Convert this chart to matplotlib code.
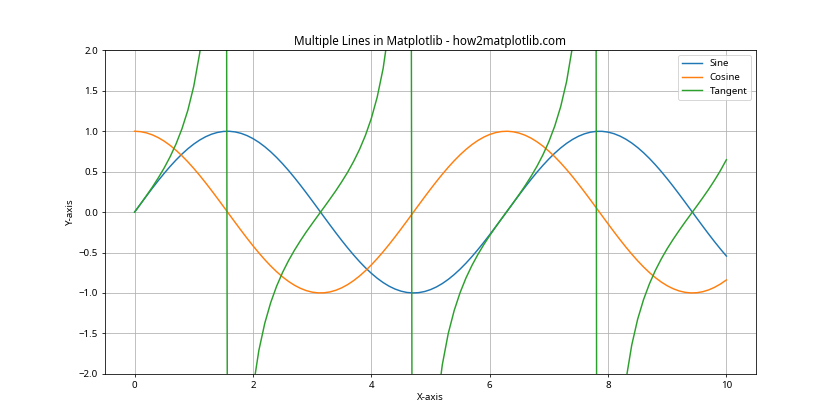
import matplotlib
matplotlib.use("Agg")
import matplotlib.pyplot as plt

plt.rcParams['font.family'] = ['Noto Sans', 'DejaVu Sans']

# x values, step 0.1 from 0 to 10
x = [i / 10 for i in range(101)]

sine = [
    0.0000, 0.0998, 0.1987, 0.2955, 0.3894, 0.4794, 0.5646, 0.6442, 0.7174, 0.7833,
    0.8415, 0.8912, 0.9320, 0.9636, 0.9854, 0.9975, 0.9996, 0.9917, 0.9738, 0.9463,
    0.9093, 0.8632, 0.8085, 0.7457, 0.6755, 0.5985, 0.5155, 0.4274, 0.3350, 0.2392,
    0.1411, 0.0416, -0.0584, -0.1577, -0.2555, -0.3508, -0.4425, -0.5298, -0.6119, -0.6878,
    -0.7568, -0.8183, -0.8716, -0.9162, -0.9516, -0.9775, -0.9937, -0.9999, -0.9962, -0.9825,
    -0.9589, -0.9258, -0.8835, -0.8323, -0.7728, -0.7055, -0.6313, -0.5507, -0.4646, -0.3739,
    -0.2794, -0.1822, -0.0831, 0.0168, 0.1165, 0.2151, 0.3115, 0.4048, 0.4941, 0.5784,
    0.6570, 0.7290, 0.7937, 0.8504, 0.8987, 0.9380, 0.9679, 0.9882, 0.9985, 0.9989,
    0.9894, 0.9699, 0.9407, 0.9022, 0.8546, 0.7985, 0.7344, 0.6630, 0.5849, 0.5010,
    0.4121, 0.3191, 0.2229, 0.1245, 0.0248, -0.0752, -0.1743, -0.2718, -0.3665, -0.4575,
    -0.5440,
]

cosine = [
    1.0000, 0.9950, 0.9801, 0.9553, 0.9211, 0.8776, 0.8253, 0.7648, 0.6967, 0.6216,
    0.5403, 0.4536, 0.3624, 0.2675, 0.1700, 0.0707, -0.0292, -0.1288, -0.2272, -0.3233,
    -0.4161, -0.5048, -0.5885, -0.6663, -0.7374, -0.8011, -0.8569, -0.9041, -0.9422, -0.9710,
    -0.9900, -0.9991, -0.9983, -0.9875, -0.9668, -0.9365, -0.8968, -0.8481, -0.7910, -0.7259,
    -0.6536, -0.5748, -0.4903, -0.4008, -0.3073, -0.2108, -0.1122, -0.0124, 0.0875, 0.1865,
    0.2837, 0.3780, 0.4685, 0.5544, 0.6347, 0.7087, 0.7756, 0.8347, 0.8855, 0.9275,
    0.9602, 0.9833, 0.9965, 0.9999, 0.9932, 0.9766, 0.9502, 0.9144, 0.8694, 0.8157,
    0.7539, 0.6845, 0.6084, 0.5261, 0.4385, 0.3466, 0.2513, 0.1534, 0.0540, -0.0460,
    -0.1455, -0.2435, -0.3392, -0.4314, -0.5193, -0.6020, -0.6787, -0.7486, -0.8111, -0.8654,
    -0.9111, -0.9477, -0.9748, -0.9922, -0.9997, -0.9972, -0.9847, -0.9624, -0.9304, -0.8892,
    -0.8391,
]

# tangent is sampled on its own x list: the two points either side of each
# asymptote sit where the reference's near-vertical jumps are
tangent_x = [
    0.0, 0.1, 0.2, 0.3, 0.4, 0.5, 0.6, 0.7, 0.8, 0.9,
    1.0, 1.1, 1.2, 1.3, 1.4, 1.5152, 1.6162, 1.7, 1.8, 1.9,
    2.0, 2.1, 2.2, 2.3, 2.4, 2.5, 2.6, 2.7, 2.8, 2.9,
    3.0, 3.1, 3.2, 3.3, 3.4, 3.5, 3.6, 3.7, 3.8, 3.9,
    4.0, 4.1, 4.2, 4.3, 4.4, 4.5, 4.6, 4.6465, 4.7475, 4.9,
    5.0, 5.1, 5.2, 5.3, 5.4, 5.5, 5.6, 5.7, 5.8, 5.9,
    6.0, 6.1, 6.2, 6.3, 6.4, 6.5, 6.6, 6.7, 6.8, 6.9,
    7.0, 7.1, 7.2, 7.3, 7.4, 7.5, 7.6, 7.7, 7.7778, 7.8788,
    8.0, 8.1, 8.2, 8.3, 8.4, 8.5, 8.6, 8.7, 8.8, 8.9,
    9.0, 9.1, 9.2, 9.3, 9.4, 9.5, 9.6, 9.7, 9.8, 9.9,
    10.0,
]

tangent = [
    0.000, 0.100, 0.203, 0.309, 0.423, 0.546, 0.684, 0.842, 1.030, 1.260,
    1.557, 1.965, 2.572, 3.602, 5.798, 17.95, -22.03, -7.70, -4.29, -2.93,
    -2.185, -1.710, -1.374, -1.119, -0.916, -0.747, -0.602, -0.473, -0.356, -0.246,
    -0.143, -0.042, 0.058, 0.160, 0.264, 0.375, 0.493, 0.625, 0.774, 0.948,
    1.158, 1.424, 1.778, 2.286, 3.097, 4.637, 8.860, 15.15, -28.49, -5.27,
    -3.381, -2.449, -1.886, -1.501, -1.218, -0.996, -0.814, -0.660, -0.525, -0.403,
    -0.291, -0.185, -0.083, 0.017, 0.117, 0.220, 0.328, 0.443, 0.568, 0.709,
    0.871, 1.065, 1.305, 1.616, 2.050, 2.706, 3.851, 6.443, 13.10, -40.30,
    -6.80, -3.98, -2.77, -2.09, -1.646, -1.326, -1.082, -0.886, -0.721, -0.579,
    -0.452, -0.337, -0.229, -0.125, -0.025, 0.075, 0.177, 0.282, 0.394, 0.515,
    0.648,
]


def main():
    fig, ax = plt.subplots(figsize=(12, 6), dpi=70)
    ax.plot(x, sine, label='Sine')
    ax.plot(x, cosine, label='Cosine')
    ax.plot(tangent_x, tangent, label='Tangent')
    ax.set_ylim(-2, 2)
    ax.set_title('Multiple Lines in Matplotlib - how2matplotlib.com')
    ax.set_xlabel('X-axis')
    ax.set_ylabel('Y-axis')
    ax.legend()
    ax.grid(True)
    fig.savefig('out.png', dpi=70)


if __name__ == "__main__":
    main()
